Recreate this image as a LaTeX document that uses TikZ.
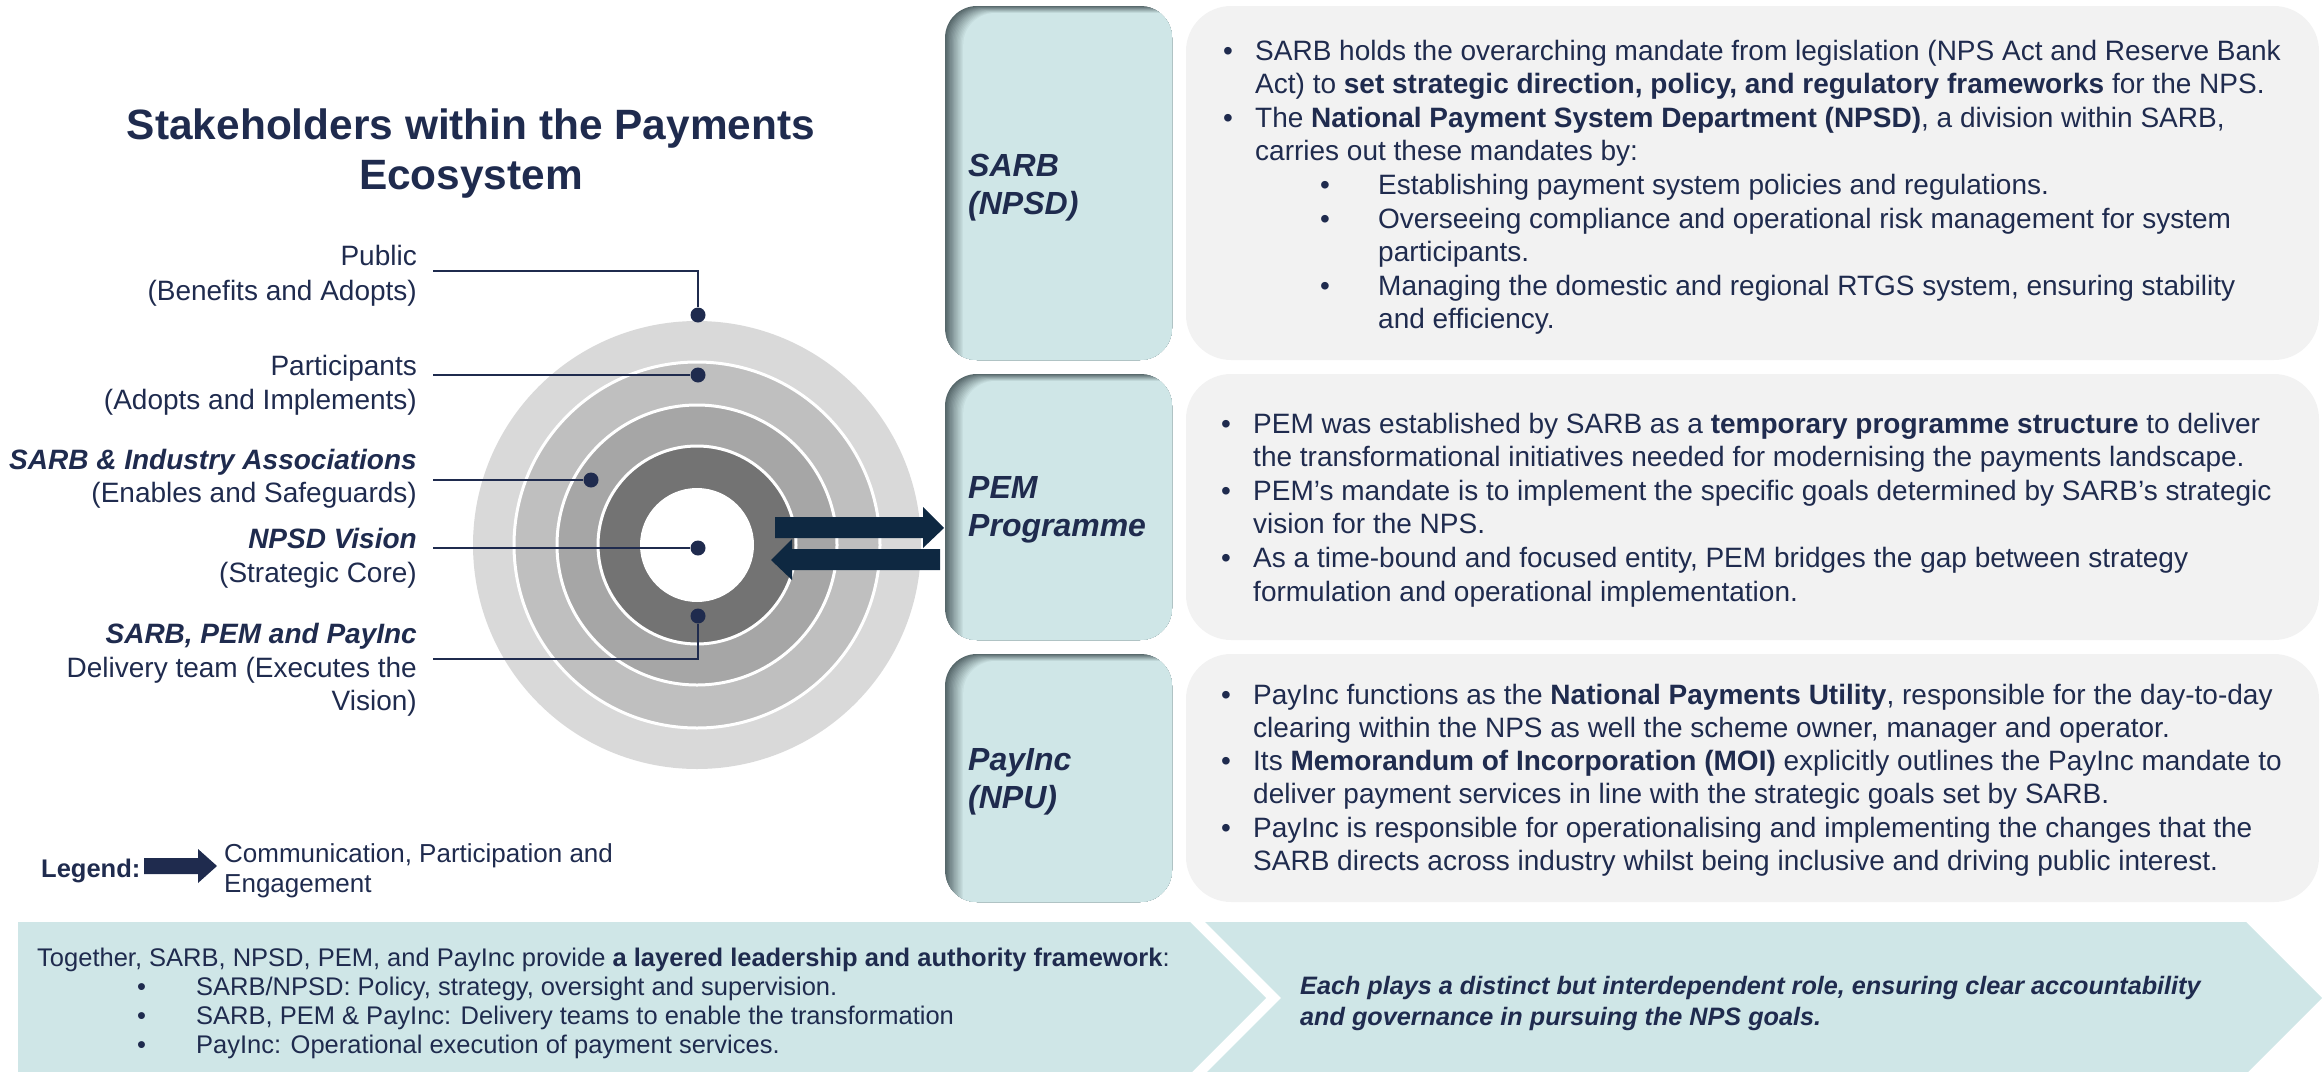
\documentclass[tikz,border=0pt]{standalone}
\usepackage{fontspec}
\setmainfont{Liberation Sans}
\usetikzlibrary{calc}

\definecolor{navy}{HTML}{1F2B4E}
\definecolor{arrowblue}{HTML}{0E2841}
\definecolor{paneteal}{HTML}{CFE6E7}
\definecolor{panegrey}{HTML}{F2F2F2}
\definecolor{paneshade}{HTML}{56676A}
\definecolor{ringA}{HTML}{D9D9D9}
\definecolor{ringB}{HTML}{BFBFBF}
\definecolor{ringC}{HTML}{A6A6A6}
\definecolor{ringD}{HTML}{737373}

\newcommand{\fsz}[1]{\fontsize{#1}{#1}\selectfont}
\newcommand{\bul}{\makebox[32pt][l]{\textbullet}}
\newcommand{\subbul}{\makebox[58pt][l]{\textbullet}}
\newcommand{\botbul}{\makebox[59pt][l]{\textbullet}}

% teal label pane with a soft inner shadow along its left and top edges
\newcommand{\tealpane}[4]{%
  \begin{scope}
    \clip[rounded corners=32pt] (#1,#2) rectangle (#3,#4);
    \foreach \i in {0,...,14} {
      \pgfmathsetmacro\q{\i*100/14}
      \fill[paneteal!\q!paneshade, rounded corners=32pt]
        (#1+1.3*\i,#2+0.5*\i) rectangle (#3+60,#4+60);
    }
  \end{scope}}

\begin{document}
\begin{tikzpicture}[x=1pt,y=-1pt,
  body/.style={inner sep=0pt, anchor=base west, text=navy, font=\fsz{28}},
  lbl/.style={inner sep=0pt, anchor=base east, text=navy, font=\fsz{28}},
  lblb/.style={lbl, font=\fsz{28}\bfseries\itshape},
  panelbl/.style={inner sep=0pt, anchor=base west, text=navy, font=\fsz{32}\bfseries\itshape},
  small/.style={inner sep=0pt, anchor=base west, text=navy, font=\fsz{25.5}},
  dot/.style={circle, fill=navy, minimum size=15pt, inner sep=0pt},
  lead/.style={draw=navy, line width=2.2pt},
  ring/.style={draw=white, line width=3pt}
]
\useasboundingbox (0,0) rectangle (2323,1071);
\clip (0,0) rectangle (2323,1071);

% ---------- title ----------
\node[inner sep=0pt, anchor=base, text=navy, font=\fsz{42.4}\bfseries] (title1) at (471,139) {Stakeholders within the Payments};
\node[inner sep=0pt, anchor=base, text=navy, font=\fsz{42.4}\bfseries] (title2) at (471,189) {Ecosystem};

% ---------- concentric rings ----------
\coordinate (ctr) at (697,545);
\fill[ringA] (ctr) circle[radius=224pt];
\filldraw[fill=ringB, ring] (ctr) circle[radius=183pt];
\filldraw[fill=ringC, ring] (ctr) circle[radius=140pt];
\filldraw[fill=ringD, ring] (ctr) circle[radius=99pt];
\fill[white] (ctr) circle[radius=57pt];

% ---------- stakeholder labels ----------
\node[lbl] (lPub1) at (417,265) {Public};
\node[lbl] (lPub2) at (417,300) {(Benefits and Adopts)};
\node[lbl] (lPar1) at (417,375) {Participants};
\node[lbl] (lPar2) at (417,409) {(Adopts and Implements)};
\node[lblb] (lInd1) at (417,469) {SARB \& Industry Associations};
\node[lbl] (lInd2) at (417,502) {(Enables and Safeguards)};
\node[lblb] (lVis1) at (417,548) {NPSD Vision};
\node[lbl] (lVis2) at (417,582) {(Strategic Core)};
\node[lblb] (lDel1) at (417,643) {SARB, PEM and PayInc};
\node[lbl] (lDel2) at (417,677) {Delivery team (Executes the};
\node[lbl] (lDel3) at (417,710) {Vision)};

% ---------- leader lines and dots ----------
\node[dot] (dPub) at (698,315) {};
\node[dot] (dPar) at (698,375) {};
\node[dot] (dInd) at (591,480) {};
\node[dot] (dVis) at (698,548) {};
\node[dot] (dDel) at (698,616) {};
\coordinate (ePub) at (433,271);
\coordinate (ePar) at (433,375);
\coordinate (eInd) at (433,480);
\coordinate (eVis) at (433,548);
\coordinate (eDel) at (433,659);
\draw[lead] (ePub) -| (dPub);
\draw[lead] (ePar) -- (dPar);
\draw[lead] (eInd) -- (dInd);
\draw[lead] (eVis) -- (dVis);
\draw[lead] (eDel) -| (dDel);

% ---------- two-way block arrows to the PEM pane ----------
\fill[arrowblue] (775,517) -- (923,517) -- (923,507) -- (944,528) -- (923,548) -- (923,538) -- (775,538) -- cycle;
\fill[arrowblue] (940,549) -- (792,549) -- (792,539) -- (771,560) -- (792,580) -- (792,570) -- (940,570) -- cycle;

% ---------- legend ----------
\node[inner sep=0pt, anchor=base west, text=navy, font=\fsz{25.5}\bfseries] (legend) at (41,877) {Legend:};
\fill[navy] (144,858) -- (198,858) -- (198,849) -- (217,866) -- (198,883) -- (198,874) -- (144,874) -- cycle;
\node[inner sep=0pt, anchor=base west, text=navy, font=\fsz{26}] (leg1) at (224,862) {Communication, Participation and};
\node[inner sep=0pt, anchor=base west, text=navy, font=\fsz{26}] (leg2) at (224,892) {Engagement};

% ---------- teal label panes ----------
\tealpane{945}{6}{1172}{360}
\tealpane{945}{374}{1172}{640}
\tealpane{945}{654}{1172}{902}
\node[panelbl] (pSarb1) at (968,176) {SARB};
\node[panelbl] (pSarb2) at (968,214) {(NPSD)};
\node[panelbl] (pPem1) at (968,498) {PEM};
\node[panelbl] (pPem2) at (968,536) {Programme};
\node[panelbl] (pPay1) at (968,770) {PayInc};
\node[panelbl] (pPay2) at (968,808) {(NPU)};

% ---------- grey description panes ----------
\fill[panegrey, rounded corners=45pt] (1186,6) rectangle (2319,360);
\fill[panegrey, rounded corners=45pt] (1186,374) rectangle (2319,640);
\fill[panegrey, rounded corners=45pt] (1186,654) rectangle (2319,902);

% SARB (NPSD)
\node[body] (s1) at (1223,60) {\bul SARB holds the overarching mandate from legislation (NPS Act and Reserve Bank};
\node[body] (s2) at (1255,93.6) {Act) to \textbf{set strategic direction, policy, and regulatory frameworks} for the NPS.};
\node[body] (s3) at (1223,127.2) {\bul The \textbf{National Payment System Department (NPSD)}, a division within SARB,};
\node[body] (s4) at (1255,160.8) {carries out these mandates by:};
\node[body] (s5) at (1320,194.4) {\subbul Establishing payment system policies and regulations.};
\node[body] (s6) at (1320,228) {\subbul Overseeing compliance and operational risk management for system};
\node[body] (s7) at (1378,261.6) {participants.};
\node[body] (s8) at (1320,295.2) {\subbul Managing the domestic and regional RTGS system, ensuring stability};
\node[body] (s9) at (1378,328.8) {and efficiency.};

% PEM Programme
\node[body] (p1) at (1221,433) {\bul PEM was established by SARB as a \textbf{temporary programme structure} to deliver};
\node[body] (p2) at (1253,466.6) {the transformational initiatives needed for modernising the payments landscape.};
\node[body] (p3) at (1221,500.2) {\bul PEM’s mandate is to implement the specific goals determined by SARB’s strategic};
\node[body] (p4) at (1253,533.8) {vision for the NPS.};
\node[body] (p5) at (1221,567.4) {\bul As a time-bound and focused entity, PEM bridges the gap between strategy};
\node[body] (p6) at (1253,601) {formulation and operational implementation.};

% PayInc (NPU)
\node[body] (n1) at (1221,704) {\bul PayInc functions as the \textbf{National Payments Utility}, responsible for the day-to-day};
\node[body] (n2) at (1253,737.3) {clearing within the NPS as well the scheme owner, manager and operator.};
\node[body] (n3) at (1221,770.6) {\bul Its \textbf{Memorandum of Incorporation (MOI)} explicitly outlines the PayInc mandate to};
\node[body] (n4) at (1253,803.9) {deliver payment services in line with the strategic goals set by SARB.};
\node[body] (n5) at (1221,837.2) {\bul PayInc is responsible for operationalising and implementing the changes that the};
\node[body] (n6) at (1253,870.5) {SARB directs across industry whilst being inclusive and driving public interest.};

% ---------- bottom chevrons ----------
\fill[paneteal] (18,922) -- (1190,922) -- (1266,998) -- (1190,1074) -- (18,1074) -- cycle;
\fill[paneteal] (1205,922) -- (2246,922) -- (2322,998) -- (2246,1074) -- (1205,1074) -- (1281,998) -- cycle;

\node[small] (t0) at (37,966) {Together, SARB, NPSD, PEM, and PayInc provide \textbf{a layered leadership and authority framework}:};
\node[small] (t1) at (137,995) {\botbul SARB/NPSD: Policy, strategy, oversight and supervision.};
\node[small] (t2) at (137,1024) {\botbul SARB, PEM \& PayInc: Delivery teams to enable the transformation};
\node[small] (t3) at (137,1053) {\botbul PayInc: Operational execution of payment services.};

\node[small, font=\fsz{25.2}\bfseries\itshape] (e1) at (1300,994) {Each plays a distinct but interdependent role, ensuring clear accountability};
\node[small, font=\fsz{25.2}\bfseries\itshape] (e2) at (1300,1025) {and governance in pursuing the NPS goals.};
\end{tikzpicture}
\end{document}
